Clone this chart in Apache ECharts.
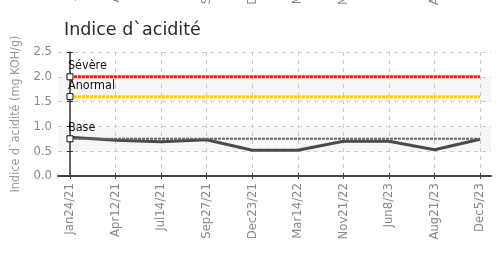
<!DOCTYPE html>
<html>
<head>
<meta charset="utf-8">
<script src="https://cdn.jsdelivr.net/npm/echarts@6/dist/echarts.min.js"></script>
<style>
  html, body { margin: 0; padding: 0; background: #fff; }
  #chart { width: 500px; height: 254px; }
</style>
</head>
<body>
<div id="chart"></div>
<script>
// sample dates and measured acidity index
const dates = ['Jan24/21', 'Apr12/21', 'Jul14/21', 'Sep27/21', 'Dec23/21', 'Mar14/22', 'Nov21/22', 'Jun8/23', 'Aug21/23', 'Dec5/23']
const acidity = [0.78, 0.72, 0.69, 0.73, 0.52, 0.52, 0.70, 0.70, 0.53, 0.74]

// limit levels
const severe = [2.0, 2.0, 2.0, 2.0, 2.0, 2.0, 2.0, 2.0, 2.0, 2.0]
const abnormal = [1.6, 1.6, 1.6, 1.6, 1.6, 1.6, 1.6, 1.6, 1.6, 1.6]
const base = [0.75, 0.75, 0.75, 0.75, 0.75, 0.75, 0.75, 0.75, 0.75, 0.75]

const condensed = "'DejaVu Sans Condensed', sans-serif"
const tickIdx = dates.map((_, i) => i)

const chart = echarts.init(document.getElementById('chart'))

function limitSeries(name, values, color, width, dash) {
  return {
    type: 'line',
    name: name,
    data: values.map((v, i) => [i, v]),
    symbol: 'rect',
    symbolSize: (v, p) => (p.dataIndex === 0 ? 6 : 0),
    itemStyle: { color: '#fff', borderColor: '#111', borderWidth: 1 },
    lineStyle: { color: color, width: width, type: dash },
    label: {
      show: true,
      position: 'top',
      align: 'left',
      distance: 1,
      offset: [-2, 0],
      color: '#111',
      fontSize: 12.5,
      fontFamily: condensed,
      formatter: p => (p.dataIndex === 0 ? name : '')
    },
    silent: true
  }
}

chart.setOption({
  animation: false,
  title: {
    text: 'Indice d`acidité',
    left: 59,
    top: 16,
    textStyle: { fontSize: 17.5, fontWeight: 'normal', color: '#2a2a2a', fontFamily: "'DejaVu Sans', sans-serif" }
  },
  grid: [
    { left: 58, right: 9, top: 52, bottom: 78 },
    { left: 58, right: 9, top: -71, height: 10 }
  ],
  xAxis: [
    {
      type: 'value',
      gridIndex: 0,
      min: -0.263,
      max: 9.24,
      axisLine: { lineStyle: { color: '#444', width: 2 } },
      axisTick: { customValues: tickIdx, length: 3, lineStyle: { color: '#444' } },
      axisLabel: {
        customValues: tickIdx,
        formatter: v => dates[v],
        rotate: 90,
        margin: 7,
        color: '#888',
        fontSize: 13,
        fontFamily: condensed
      },
      splitLine: { show: true, lineStyle: { color: '#ccc', type: [4, 4] } }
    },
    {
      type: 'value',
      gridIndex: 0,
      position: 'bottom',
      min: -0.263,
      max: 9.24,
      axisLine: { show: false },
      axisTick: { customValues: tickIdx, inside: true, length: 3, lineStyle: { color: '#444' } },
      axisLabel: { show: false },
      splitLine: { show: false }
    },
    {
      type: 'value',
      gridIndex: 1,
      min: -0.263,
      max: 9.24,
      axisLine: { show: false },
      axisTick: { show: false },
      axisLabel: {
        customValues: tickIdx,
        formatter: v => dates[v],
        rotate: 90,
        margin: 7,
        color: '#888',
        fontSize: 13,
        fontFamily: condensed
      },
      splitLine: { show: false }
    }
  ],
  yAxis: [
    {
      type: 'value',
      gridIndex: 0,
      min: 0,
      max: 2.5,
      interval: 0.5,
      name: 'Indice d`acidité (mg KOH/g)',
      nameLocation: 'middle',
      nameGap: 34,
      nameTextStyle: { color: '#999', fontSize: 12.5, fontFamily: condensed },
      axisLine: { show: true, lineStyle: { color: '#333', width: 1.5 } },
      axisTick: { show: true, length: 3, lineStyle: { color: '#333' } },
      axisLabel: { formatter: v => v.toFixed(1), color: '#888', fontSize: 13, margin: 6, fontFamily: condensed },
      splitLine: { lineStyle: { color: '#ccc', type: [4, 4] } },
      splitArea: { show: true, areaStyle: { color: ['rgba(0,0,0,0)', '#f6f6f6'] } }
    },
    {
      type: 'value',
      gridIndex: 0,
      position: 'left',
      min: 0,
      max: 2.5,
      interval: 0.5,
      axisLine: { show: false },
      axisTick: { show: true, inside: true, length: 3, lineStyle: { color: '#333' } },
      axisLabel: { show: false },
      splitLine: { show: false }
    },
    {
      type: 'value',
      gridIndex: 1,
      show: false
    }
  ],
  series: [
    limitSeries('Sévère', severe, '#ff1a1a', 3, [3, 1]),
    limitSeries('Anormal', abnormal, '#ffcc00', 3, [3, 1]),
    {
      type: 'line',
      name: 'acidity',
      data: acidity.map((v, i) => [i, v]),
      symbol: 'none',
      lineStyle: { color: '#4a4a4a', width: 3 },
      silent: true
    },
    limitSeries('Base', base, '#666', 2, [3, 1])
  ]
})
</script>
</body>
</html>
